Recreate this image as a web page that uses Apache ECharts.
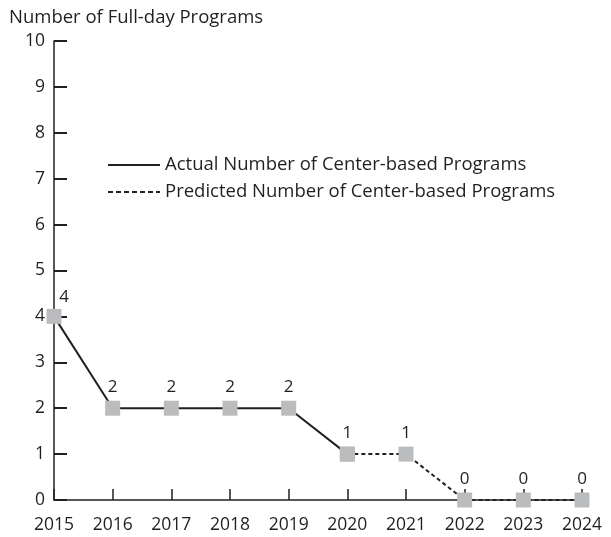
<!DOCTYPE html>
<html>
<head>
<meta charset="utf-8">
<script src="https://cdn.jsdelivr.net/npm/echarts@6/dist/echarts.min.js"></script>
<style>
  html, body { margin: 0; padding: 0; background: #fff; }
  #chart { width: 611px; height: 537px; }
</style>
</head>
<body>
<div id="chart"></div>
<script>
const years = ["2015", "2016", "2017", "2018", "2019", "2020", "2021", "2022", "2023", "2024"];
const actual = [4, 2, 2, 2, 2, 1, null, null, null, null];
const predicted = [null, null, null, null, null, 1, 1, 0, 0, 0];
const yTicks = [0, 1, 2, 3, 4, 5, 6, 7, 8, 9, 10];

const font = '"Open Sans", "Noto Sans", sans-serif';
const ink = "#231f20";
const marker = "#bbbcbe";

const dotIcon = "path://M0,0h5v2h-5z M8,0h5v2h-5z M16,0h5v2h-5z M24,0h5v2h-5z M32,0h5v2h-5z M40,0h5v2h-5z M48,0h4v2h-4z";

const chart = echarts.init(document.getElementById("chart"));
chart.setOption({
  animation: false,
  textStyle: { fontFamily: font, color: ink },
  title: {
    text: "Number of Full-day Programs",
    left: 9,
    top: 8,
    padding: 0,
    textStyle: { fontFamily: font, fontSize: 18.5, fontWeight: "normal", color: ink },
  },
  legend: {
    orient: "vertical",
    left: 108,
    top: 155,
    padding: 0,
    itemWidth: 52,
    itemHeight: 2,
    itemGap: 7,
    textStyle: { fontFamily: font, fontSize: 18.5, lineHeight: 20, color: ink },
    data: [
      { name: "Actual Number of Center-based Programs", icon: "rect", itemStyle: { color: ink } },
      { name: "Predicted Number of Center-based Programs", icon: dotIcon, itemStyle: { color: ink } },
    ],
  },
  grid: { left: 54, right: 29, top: 41, bottom: 37 },
  xAxis: {
    type: "category",
    data: years,
    boundaryGap: false,
    axisLine: { lineStyle: { color: ink, width: 1.5 } },
    axisTick: { inside: true, length: 11, lineStyle: { color: ink, width: 1.5 } },
    axisLabel: { fontFamily: font, fontSize: 17.5, color: ink, margin: 16 },
  },
  yAxis: {
    type: "value",
    min: 0,
    max: 10,
    interval: 1,
    axisLine: { show: true, lineStyle: { color: ink, width: 1.5 } },
    axisTick: { show: true, inside: true, length: 13, lineStyle: { color: ink, width: 2 } },
    axisLabel: {
      fontFamily: font,
      fontSize: 17.5,
      color: ink,
      margin: 9,
      formatter: (v) => (yTicks.includes(v) ? String(v) : ""),
    },
    splitLine: { show: false },
  },
  series: [
    {
      name: "Actual Number of Center-based Programs",
      type: "line",
      data: actual.map((v, i) =>
        i === 0 ? { value: v, label: { offset: [10, 2] } } : v
      ),
      symbol: "rect",
      symbolSize: 15,
      itemStyle: { color: marker },
      lineStyle: { color: ink, width: 2 },
      label: { show: true, position: "top", distance: 5, fontFamily: font, fontSize: 17, color: ink },
      z: 3,
    },
    {
      name: "Predicted Number of Center-based Programs",
      type: "line",
      data: predicted,
      symbol: "rect",
      symbolSize: 15,
      itemStyle: { color: marker },
      lineStyle: { color: ink, width: 2, type: [4, 3] },
      label: {
        show: true,
        position: "top",
        distance: 5,
        fontFamily: font,
        fontSize: 17,
        color: ink,
        formatter: (p) => (p.dataIndex === 5 ? "" : String(p.value)),
      },
      z: 2,
    },
  ],
});
</script>
</body>
</html>
